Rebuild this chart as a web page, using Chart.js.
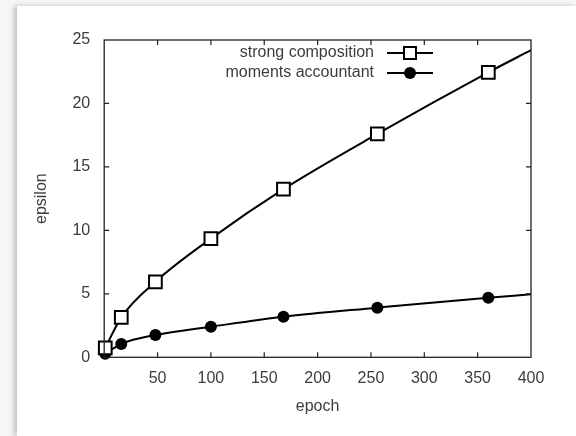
<!DOCTYPE html>
<html>
<head>
<meta charset="utf-8">
<script src="https://cdn.jsdelivr.net/npm/chart.js@4"></script>
<style>
  html, body { margin: 0; padding: 0; }
  body { width: 576px; height: 436px; background: #f6f6f6; position: relative; overflow: hidden; }
  #card { position: absolute; left: 17px; top: 6px; right: 0; bottom: 0; background: #ffffff;
          box-shadow: -3px 0 5px rgba(0,0,0,0.22); }
  #c { position: absolute; left: 0; top: 0; }
</style>
</head>
<body>
<div id="card"></div>
<canvas id="c" width="576" height="436"></canvas>
<script>
// ---- data ----
const epochs = [1, 16, 48, 100, 168, 256, 360, 400];
const strongComposition = [0.75, 3.15, 5.95, 9.35, 13.25, 17.6, 22.45, 24.2];
const momentsAccountant = [0.28, 1.05, 1.76, 2.41, 3.2, 3.91, 4.7, 4.96];
const markerShown = [true, true, true, true, true, true, true, false];
const seriesLabels = ['strong composition', 'moments accountant'];
const xTickValues = [50, 100, 150, 200, 250, 300, 350, 400];
const yTickValues = [0, 5, 10, 15, 20, 25];
const xTitle = 'epoch';
const yTitle = 'epsilon';

const FONT = 'Liberation Sans';
const FS = 16;
const TEXT = '#3c3c3c';

function pts(ys) { return epochs.map((x, i) => ({ x: x, y: ys[i] })); }

const frameTicks = {
  id: 'frameTicks',
  afterDatasetsDraw(chart) {
    const { ctx, chartArea: a, scales } = chart;
    ctx.save();
    ctx.strokeStyle = '#222';
    ctx.lineWidth = 1.3;
    ctx.strokeRect(a.left, a.top, a.right - a.left, a.bottom - a.top);
    const L = 5;
    ctx.lineWidth = 1.2;
    ctx.beginPath();
    xTickValues.forEach(v => {
      const px = scales.x.getPixelForValue(v);
      if (px <= a.left + 1 || px >= a.right - 1) return;
      ctx.moveTo(px, a.bottom); ctx.lineTo(px, a.bottom - L);
      ctx.moveTo(px, a.top); ctx.lineTo(px, a.top + L);
    });
    yTickValues.forEach(v => {
      const py = scales.y.getPixelForValue(v);
      if (py <= a.top + 1 || py >= a.bottom - 1) return;
      ctx.moveTo(a.left, py); ctx.lineTo(a.left + L, py);
      ctx.moveTo(a.right, py); ctx.lineTo(a.right - L, py);
    });
    ctx.stroke();
    ctx.restore();
  }
};

const keyPlugin = {
  id: 'keyPlugin',
  afterDraw(chart) {
    const { ctx, chartArea: a } = chart;
    ctx.save();
    ctx.font = FS + 'px "' + FONT + '"';
    ctx.textAlign = 'right';
    ctx.textBaseline = 'middle';
    chart.data.datasets.forEach((ds, i) => {
      const y = a.top + 13 + i * 20;
      const tx = a.right - 157;
      ctx.fillStyle = TEXT;
      ctx.fillText(ds.label, tx, y);
      const x0 = a.right - 144, x1 = a.right - 98, xm = (x0 + x1) / 2;
      ctx.strokeStyle = '#000';
      ctx.lineWidth = 2;
      ctx.beginPath(); ctx.moveTo(x0, y); ctx.lineTo(x1, y); ctx.stroke();
      if (ds.pointStyle === 'rect') {
        ctx.fillStyle = '#fff';
        ctx.fillRect(xm - 6, y - 6, 12, 12);
        ctx.strokeRect(xm - 6, y - 6, 12, 12);
      } else {
        ctx.fillStyle = '#000';
        ctx.beginPath(); ctx.arc(xm, y, 6, 0, Math.PI * 2); ctx.fill();
      }
    });
    ctx.restore();
  }
};

new Chart(document.getElementById('c'), {
  type: 'line',
  data: {
    datasets: [
      {
        label: seriesLabels[0],
        data: pts(strongComposition),
        borderColor: '#000',
        borderWidth: 2,
        pointStyle: 'rect',
        pointRadius: markerShown.map(s => s ? 9 : 0),
        pointBorderWidth: 2,
        pointBorderColor: '#000',
        pointBackgroundColor: '#fff',
        cubicInterpolationMode: 'monotone',
        order: 1
      },
      {
        label: seriesLabels[1],
        data: pts(momentsAccountant),
        borderColor: '#000',
        borderWidth: 2,
        pointStyle: 'circle',
        pointRadius: markerShown.map(s => s ? 6 : 0),
        pointBorderWidth: 0,
        pointBackgroundColor: '#000',
        cubicInterpolationMode: 'monotone',
        order: 2
      }
    ]
  },
  options: {
    responsive: false,
    animation: false,
    devicePixelRatio: 1,
    clip: false,
    layout: { padding: { left: 32, top: 40, right: 45, bottom: 19.4 } },
    plugins: { legend: { display: false }, tooltip: { enabled: false } },
    scales: {
      x: {
        type: 'linear', min: 0, max: 400,
        grid: { display: false, drawTicks: false },
        border: { display: false },
        afterBuildTicks: (axis) => { axis.ticks = xTickValues.map(v => ({ value: v })); },
        afterFit: (axis) => { axis.height = 59.3; },
        ticks: { font: { family: FONT, size: FS }, color: TEXT, padding: 12, maxRotation: 0, autoSkip: false },
        title: { display: true, text: xTitle, font: { family: FONT, size: FS }, color: TEXT, padding: { top: 0, bottom: 0 } }
      },
      y: {
        type: 'linear', min: 0, max: 25,
        grid: { display: false, drawTicks: false },
        border: { display: false },
        afterBuildTicks: (axis) => { axis.ticks = yTickValues.map(v => ({ value: v })); },
        afterFit: (axis) => { axis.width = 72.2; },
        ticks: { font: { family: FONT, size: FS }, color: TEXT, padding: 14, autoSkip: false },
        title: { display: true, text: yTitle, font: { family: FONT, size: FS }, color: TEXT, padding: { top: 0, bottom: 0 } }
      }
    }
  },
  plugins: [frameTicks, keyPlugin]
});
</script>
</body>
</html>
